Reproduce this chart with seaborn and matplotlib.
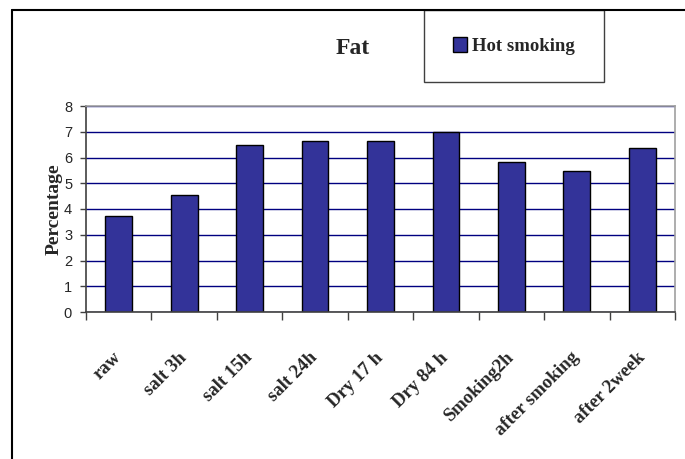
import matplotlib
matplotlib.use("Agg")
import matplotlib.pyplot as plt
import matplotlib.transforms as mtransforms
import seaborn as sns
import pandas as pd
from matplotlib.patches import Rectangle
from matplotlib.lines import Line2D

# values
stages = ["raw", "salt 3h", "salt 15h", "salt 24h", "Dry 17 h", "Dry 84 h",
          "Smoking2h", "after smoking", "after 2week"]
fat_pct = [3.72, 4.54, 6.5, 6.64, 6.64, 7.0, 5.83, 5.48, 6.38]
y_ticks = [0, 1, 2, 3, 4, 5, 6, 7, 8]

df = pd.DataFrame({"stage": stages, "fat": fat_pct})

sns.set_style("white")
serif = ["Liberation Serif", "DejaVu Serif"]
sans = ["Liberation Sans", "DejaVu Sans"]

W, H = 685, 459
fig = plt.figure(figsize=(W / 100, H / 100), dpi=100)
ax = fig.add_axes([86 / W, 1 - 312 / H, (675 - 86) / W, (312 - 106) / H])

sns.barplot(data=df, x="stage", y="fat", color="#333399", saturation=1,
            width=0.41, edgecolor="black", linewidth=1, label="Hot smoking",
            ax=ax)
handles, labels = ax.get_legend_handles_labels()
if ax.get_legend() is not None:
    ax.get_legend().remove()

ax.set_ylim(0, 8)
ax.set_xlim(-0.5, len(stages) - 0.5)
ax.set_yticks(y_ticks)
ax.set_yticklabels([str(t) for t in y_ticks], fontfamily=sans, fontsize=10.5)
ax.set_axisbelow(True)
ax.yaxis.grid(True, color="#000080", linewidth=1)
ax.xaxis.grid(False)

# ticks on category boundaries, labels at centres
ax.set_xticks([i - 0.5 for i in range(len(stages) + 1)], minor=False)
ax.set_xticklabels([])
ax.set_xticks(range(len(stages)), minor=True)
xlabels = ax.set_xticklabels(stages, minor=True, rotation=45, ha="right",
                             va="center", rotation_mode="anchor",
                             fontfamily=serif, fontweight="bold", fontsize=13.5)
shift = mtransforms.ScaledTranslation(4 / 72, 0, fig.dpi_scale_trans)
for lbl in xlabels:
    lbl.set_transform(lbl.get_transform() + shift)
ax.tick_params(axis="x", which="major", length=6, width=1, color="#404040",
               direction="out", bottom=True)
ax.tick_params(axis="x", which="minor", length=0, pad=31)
ax.tick_params(axis="y", length=4, width=1, color="#404040", direction="out",
               left=True, pad=6)

ax.set_xlabel("")
ax.set_ylabel("Percentage", fontfamily=serif, fontweight="bold", fontsize=14,
              labelpad=1)

for side in ["left", "bottom"]:
    ax.spines[side].set_color("#404040")
    ax.spines[side].set_linewidth(1.2)
for side in ["top", "right"]:
    ax.spines[side].set_color("#a0a0a0")
    ax.spines[side].set_linewidth(1.2)

# outer frame (left and top only, as in the reference)
fig.add_artist(Line2D([12 / W, 12 / W], [0, 1 - 10 / H], color="black",
                      linewidth=1.5, transform=fig.transFigure))
fig.add_artist(Line2D([12 / W, 1], [1 - 10 / H, 1 - 10 / H], color="black",
                      linewidth=1.5, transform=fig.transFigure))

fig.text(353 / W, 1 - 48 / H, "Fat", ha="center", va="center",
         fontfamily=serif, fontweight="bold", fontsize=17)

# legend box
fig.add_artist(Rectangle((424 / W, 1 - 82 / H), 180 / W, 72 / H,
                         transform=fig.transFigure, facecolor="white",
                         edgecolor="#404040", linewidth=1))
fig.legend(handles, labels, loc="center", bbox_to_anchor=(514 / W, 1 - 46 / H),
           frameon=False, handlelength=0.75, handleheight=0.85,
           handletextpad=0.25, prop={"family": serif, "weight": "bold",
                                     "size": 13.5})

fig.savefig("out.png", dpi=100)
